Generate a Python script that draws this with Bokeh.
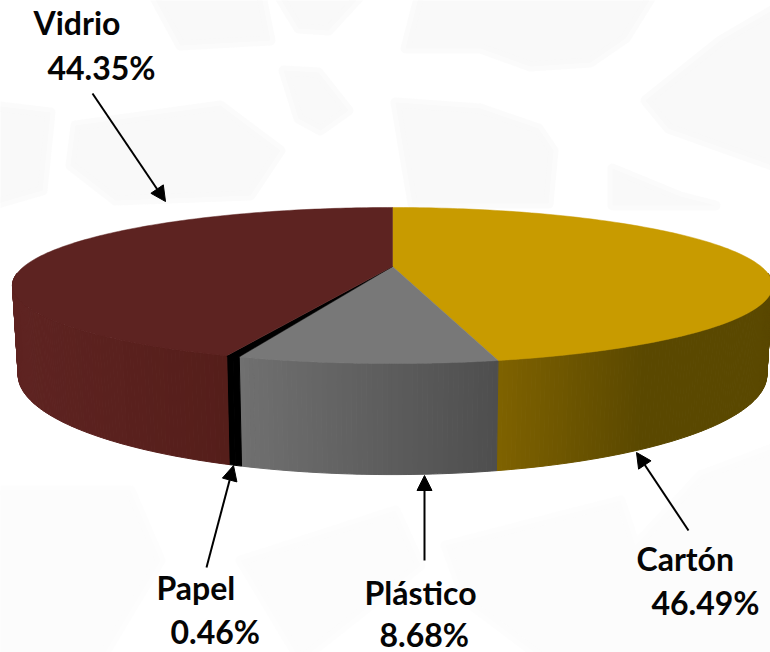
import numpy as np
from bokeh.plotting import figure
from bokeh.models import Range1d, Arrow, NormalHead, ColumnDataSource
from bokeh.core.properties import value
from bokeh.embed import file_html
from bokeh.resources import INLINE

categories = ["Cartón", "Plástico", "Papel", "Vidrio"]
shares = [46.49, 8.68, 0.46, 44.35]
top_colors = ["#c89b00", "#787878", "#000000", "#5d2321"]
side_left = [(127, 98, 0), (112, 112, 112), (0, 0, 0), (94, 35, 33)]
side_right = [(90, 72, 0), (78, 78, 78), (0, 0, 0), (85, 30, 26)]

# projection of the pie, in picture pixels
CX, CY, RX, RY, K, DEPTH, SHRINK = 392, 266, 368.6, 73.4, 0.2436, 84, 0.985

def rim(theta):
    u, v = np.sin(theta), np.cos(theta)
    d = 1 + K * v
    return CX + RX * u / d, CY - RY * v / d

def base(theta):
    x, y = rim(theta)
    d = 1 + K * np.cos(theta)
    return CX + SHRINK * (x - CX), y + DEPTH / d

p = figure(width=770, height=652, output_backend="svg", toolbar_location=None,
           x_range=Range1d(0, 770), y_range=Range1d(652, 0),
           min_border=0, background_fill_color="white", border_fill_color="white",
           outline_line_color=None)
p.axis.visible = False
p.grid.visible = False

# faint watermark behind the chart
wm_upper = [
    ([420, 655, 625, 590, 530, 480, 405], [-10, -10, 38, 62, 66, 48, 48]),
    ([780, 720, 645, 668, 780], [5, 40, 100, 128, 168]),
    ([395, 480, 538, 553, 548, 412], [102, 108, 128, 150, 203, 203]),
    ([612, 680, 715, 612], [168, 196, 205, 205]),
    ([283, 318, 348, 320, 298], [70, 72, 110, 130, 118]),
    ([275, 365, 328, 298], [-10, -10, 30, 28]),
    ([75, 220, 280, 250, 115, 70], [125, 105, 150, 195, 200, 165]),
    ([-10, 50, 42, -10], [105, 112, 190, 205]),
    ([150, 260, 270, 180], [-10, -10, 40, 45]),
]
wm_lower = [
    ([-10, 130, 160, 100, -10], [490, 490, 560, 660, 660]),
    ([445, 620, 635, 700, 780, 780, 545, 465], [545, 500, 545, 475, 445, 660, 660, 600]),
    ([240, 395, 420, 300], [560, 510, 565, 660]),
]
for wm, col in ((wm_upper, "#f9f9f9"), (wm_lower, "#fcfcfc")):
    p.patches([w[0] for w in wm], [w[1] for w in wm], fill_color=col, line_color=col,
              line_width=10, line_join="round", line_alpha=0.6)

edges = np.cumsum([0] + shares) / sum(shares) * 2 * np.pi

# sides first, then the top faces over them
sx, sy, sc = [], [], []
F0, F1 = np.radians(95), np.radians(265)
for i in range(len(shares)):
    a, b = max(edges[i], F0), min(edges[i + 1], F1)
    if b <= a:
        continue
    n = max(2, int((b - a) / np.radians(0.6)))
    th = np.linspace(a, b, n + 1)
    x0 = rim(a)[0]
    x1 = rim(b)[0]
    lo, hi = min(x0, x1), max(x0, x1)
    span = min(hi - lo, 145) if i == 0 else hi - lo
    for t0, t1 in zip(th[:-1], th[1:]):
        xa, ya = rim(t0)
        xb, yb = rim(t1)
        xc, yc = base(t1)
        xd, yd = base(t0)
        f = min(1, (0.5 * (xa + xb) - lo) / max(span, 1))
        col = tuple(int(round(side_left[i][c] + f * (side_right[i][c] - side_left[i][c]))) for c in range(3))
        sx.append([xa, xb, xc, xd])
        sy.append([ya, yb, yc, yd])
        sc.append("#%02x%02x%02x" % col)
p.patches(xs="xs", ys="ys", fill_color="c", line_color="c", line_width=1.0,
          source=ColumnDataSource(dict(xs=sx, ys=sy, c=sc)))

tx, ty = [], []
for i in range(len(shares)):
    th = np.linspace(edges[i], edges[i + 1], 160)
    rx_, ry_ = rim(th)
    tx.append([CX] + list(rx_))
    ty.append([CY] + list(ry_))
p.patches(tx, ty, fill_color=top_colors, line_color=top_colors, line_width=0.5)

# annotations
label_font = value("Lato")
labels = [
    (categories[3], 33, 22), (f"{shares[3]:.2f}%", 47, 67),
    (categories[2], 156, 587), (f"{shares[2]:.2f}%", 170, 631),
    (categories[1], 364, 592), (f"{shares[1]:.2f}%", 379, 634),
    (categories[0], 636, 558), (f"{shares[0]:.2f}%", 651, 602),
]
p.text([l[1] for l in labels], [l[2] for l in labels], text=[l[0] for l in labels],
       text_font=label_font, text_font_style="bold", text_font_size="32px",
       text_color="#050505", text_baseline="alphabetic", text_align="left")

arrows = [(92, 93, 165, 201), (206, 567, 233, 465), (424, 560, 424, 475), (688, 530, 636, 452)]
for x0, y0, x1, y1 in arrows:
    p.add_layout(Arrow(x_start=x0, y_start=y0, x_end=x1, y_end=y1, line_width=2, line_color="black",
                       end=NormalHead(size=15, fill_color="black", line_color="black", line_width=1)))

open("out.html", "w").write(file_html(p, INLINE))
